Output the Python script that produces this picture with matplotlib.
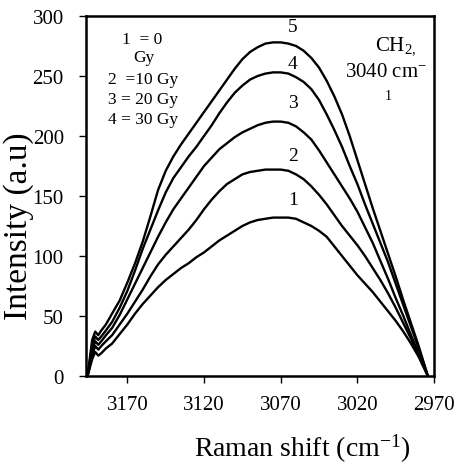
import matplotlib
matplotlib.use('Agg')
import matplotlib.pyplot as plt

plt.rcParams['font.family'] = ['Liberation Serif', 'DejaVu Serif']
plt.rcParams['mathtext.fontset'] = 'custom'
plt.rcParams['mathtext.rm'] = 'Liberation Serif'
plt.rcParams['mathtext.it'] = 'Liberation Serif:italic'

# Raman shift (cm-1) and intensities
shift = [3196, 3193, 3191, 3189, 3187, 3184, 3180, 3175, 3170, 3165,
         3160, 3155, 3150, 3145, 3140, 3135, 3130, 3125, 3120, 3115,
         3110, 3105, 3100, 3095, 3090, 3085, 3080, 3075, 3070, 3065,
         3060, 3055, 3050, 3045, 3040, 3035, 3030, 3025, 3020, 3015,
         3010, 3005, 3000, 2995, 2990, 2985, 2980, 2974]
curve1 = [0, 14, 20, 17, 19, 23, 27, 35, 43, 52,
          60, 67, 74, 80, 85, 90, 94, 99, 103, 108,
          113, 117, 121, 125, 128, 130, 131, 132, 132, 132,
          131, 128, 125, 121, 116, 108, 100, 92, 84, 77,
          70, 62, 54, 46, 37, 27, 16, 0]
curve2 = [0, 17, 25, 22, 25, 29, 34, 43, 52, 62,
          72, 83, 93, 101, 108, 115, 122, 130, 139, 147,
          154, 160, 164, 168, 170, 171, 172, 172, 172, 171,
          168, 164, 158, 151, 143, 134, 125, 117, 109, 100,
          90, 80, 69, 57, 44, 31, 17, 0]
curve3 = [0, 21, 29, 26, 29, 34, 40, 51, 64, 77,
          90, 103, 116, 128, 139, 148, 157, 166, 175, 182,
          189, 194, 199, 203, 206, 209, 211, 212, 212, 211,
          208, 203, 197, 188, 178, 168, 158, 148, 137, 124,
          111, 96, 81, 65, 50, 34, 19, 0]
curve4 = [0, 25, 33, 30, 33, 38, 45, 57, 71, 88,
          106, 122, 138, 153, 165, 174, 183, 191, 200, 209,
          219, 228, 236, 242, 247, 250, 252, 253, 253, 252,
          249, 245, 239, 230, 218, 205, 191, 175, 160, 143,
          127, 111, 95, 77, 59, 41, 23, 0]
curve5 = [0, 30, 37, 34, 38, 43, 52, 63, 78, 94,
          112, 133, 155, 171, 183, 193, 202, 211, 220, 229,
          238, 247, 256, 264, 270, 274, 277, 278, 278, 277,
          275, 271, 265, 257, 246, 233, 218, 200, 180, 160,
          140, 121, 102, 83, 63, 44, 25, 0]
curves = [curve1, curve2, curve3, curve4, curve5]
curve_names = ['1', '2', '3', '4', '5']
legend_lines = ['1  = 0', 'Gy', '2  =10 Gy', '3 = 20 Gy', '4 = 30 Gy']

x_ticks = [3170, 3120, 3070, 3020, 2970]
y_ticks = [0, 50, 100, 150, 200, 250, 300]

fig = plt.figure(figsize=(4.58, 4.64), dpi=100)
ax = fig.add_axes([0.1878, 0.1875, 0.7598, 0.7759])

for c in curves:
    ax.plot(shift, c, color='black', lw=1.7, solid_joinstyle='round')

# curve numbers above each peak (gap above the peak differs a bit per curve)
label_gap = [15, 12, 16, 7, 13]
for name, c, g in zip(curve_names, curves, label_gap):
    ax.text(3062, max(c) + g, name, fontsize=14, ha='center', va='center')

ax.set_xlim(3197, 2970)
ax.set_ylim(0, 300)
ax.set_xticks(x_ticks)
ax.set_yticks(y_ticks)
ax.tick_params(labelsize=15, length=5, width=1, direction='out', pad=9)
ax.tick_params(axis='y', pad=11)
for s in ax.spines.values():
    s.set_linewidth(1.8)

ax.set_xlabel('Raman shift (cm$^{-1}$)', fontsize=20)
ax.xaxis.set_label_coords(0.62, -0.155)
ax.set_ylabel('Intensity (a.u)', fontsize=24)
ax.yaxis.set_label_coords(-0.15, 0.42)

# dose legend, top left
leg_y = [0.935, 0.885, 0.825, 0.77, 0.715]
leg_x = [0.16, 0.165, 0.163, 0.163, 0.163]
for t, lx, ly in zip(legend_lines, leg_x, leg_y):
    ax.text(lx, ly, t, transform=ax.transAxes, fontsize=12.5, ha='center', va='center')

# band annotation, top right
ax.text(0.89, 0.92, 'CH$_{2,}$', transform=ax.transAxes, fontsize=15,
        ha='center', va='center')
ax.text(0.862, 0.847, '3040 cm$^{-}$', transform=ax.transAxes, fontsize=15,
        ha='center', va='center')
ax.text(0.868, 0.78, '1', transform=ax.transAxes, fontsize=10,
        ha='center', va='center')

fig.savefig('out.png', dpi=100)
